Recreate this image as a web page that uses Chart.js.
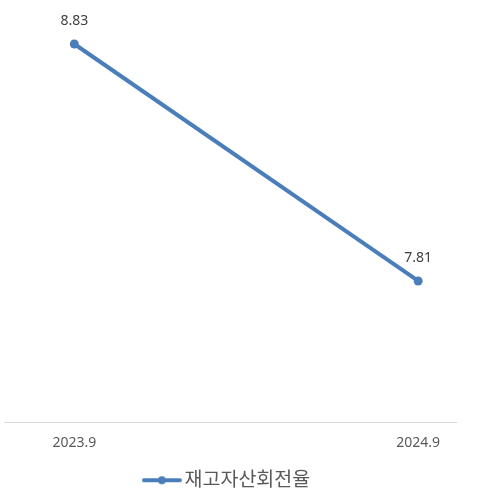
<!DOCTYPE html>
<html>
<head>
<meta charset="utf-8">
<script src="https://cdn.jsdelivr.net/npm/chart.js@4/dist/chart.umd.min.js"></script>
<style>
  html, body { margin: 0; padding: 0; background: #fff; }
  #wrap { width: 481px; height: 499px; }
</style>
</head>
<body>
<div id="wrap"><canvas id="chart"></canvas></div>
<script>
const categories = ["2023.9", "2024.9"];
const turnover = [8.83, 7.81];
const seriesName = "재고자산회전율";

const LINE_COLOR = "#4a7ebb";
const FONT = '"Noto Sans", "Noto Sans CJK KR", sans-serif';

// legend marker: short line with a dot in the middle
function legendMarker() {
  const c = document.createElement("canvas");
  c.width = 40;
  c.height = 10;
  const ctx = c.getContext("2d");
  ctx.strokeStyle = LINE_COLOR;
  ctx.lineWidth = 4;
  ctx.lineCap = "round";
  ctx.beginPath();
  ctx.moveTo(2, 5);
  ctx.lineTo(38, 5);
  ctx.stroke();
  ctx.fillStyle = LINE_COLOR;
  ctx.beginPath();
  ctx.arc(20, 5, 4, 0, Math.PI * 2);
  ctx.fill();
  return c;
}

const valueLabels = {
  id: "valueLabels",
  afterDatasetsDraw(chart) {
    const { ctx } = chart;
    const meta = chart.getDatasetMeta(0);
    ctx.save();
    ctx.font = `14px ${FONT}`;
    ctx.fillStyle = "#404040";
    ctx.textAlign = "center";
    ctx.textBaseline = "middle";
    meta.data.forEach((pt, i) => {
      ctx.fillText(turnover[i].toFixed(2), pt.x, pt.y - 23);
    });
    ctx.restore();
  },
};

new Chart(document.getElementById("chart"), {
  type: "line",
  data: {
    datasets: [
      {
        label: seriesName,
        data: turnover.map((v, i) => ({ x: i, y: v })),
        borderColor: LINE_COLOR,
        backgroundColor: LINE_COLOR,
        borderWidth: 4,
        pointRadius: 4.5,
        pointBackgroundColor: LINE_COLOR,
        pointBorderWidth: 0,
        pointStyle: "circle",
        tension: 0,
      },
    ],
  },
  options: {
    animation: false,
    responsive: true,
    maintainAspectRatio: false,
    layout: { padding: { left: 3, right: 25, top: 2, bottom: -1 } },
    scales: {
      x: {
        type: "linear",
        min: -0.203,
        max: 1.11,
        afterBuildTicks(scale) {
          scale.ticks = categories.map((_, i) => ({ value: i }));
        },
        ticks: {
          callback: (v) => categories[v],
          color: "#595959",
          font: { family: FONT, size: 14 },
          padding: 4,
          maxRotation: 0,
        },
        grid: { display: false },
        border: { display: true, color: "#d9d9d9", width: 1 },
      },
      y: {
        display: false,
        min: 7.2,
        max: 9.0,
      },
    },
    plugins: {
      legend: {
        position: "bottom",
        labels: {
          usePointStyle: true,
          pointStyleWidth: 26,
          generateLabels: () => [
            {
              text: seriesName,
              pointStyle: legendMarker(),
              fontColor: "#595959",
              datasetIndex: 0,
            },
          ],
          color: "#595959",
          font: { family: FONT, size: 19.5 },
          padding: 15,
        },
      },
      tooltip: { enabled: false },
    },
  },
  plugins: [valueLabels],
});
</script>
</body>
</html>
